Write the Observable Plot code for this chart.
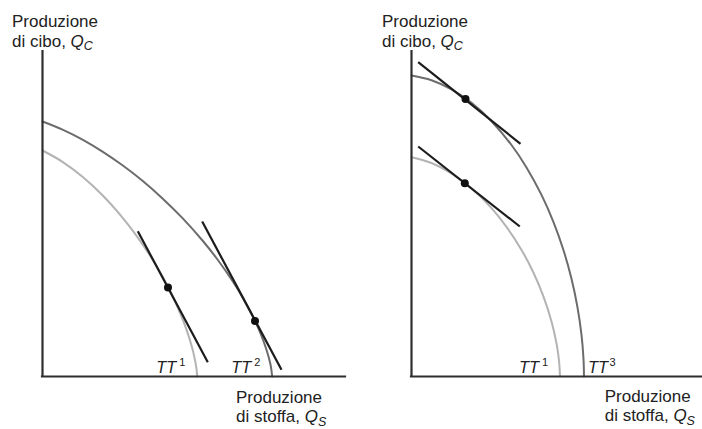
<!DOCTYPE html>
<html>
<head>
<meta charset="utf-8">
<script src="https://cdn.jsdelivr.net/npm/d3@7"></script>
<script src="https://cdn.jsdelivr.net/npm/@observablehq/plot@0.6"></script>
<style>
  html, body { margin: 0; padding: 0; background: #fff; }
  #wrap { display: flex; width: 702px; height: 429px; overflow: hidden; }
  #wrap svg { display: block; }
</style>
</head>
<body>
<div id="wrap"></div>
<script>
// ---- Data (production of cloth Q_S, production of food Q_C; arbitrary units) ----
// Left panel: frontiers TT1 and TT2
const tt1Left = [[0,226],[20,214.7],[40,199.7],[60,181.2],[80,158.9],[95,139.4],[110,117],[120,99.9],[130,80.5],[138,62.5],[144,46.8],[149,30.9],[152,18.9],[154,7.7],[154.7,0]];
const tt2Left = [[0,255],[20,246.9],[40,236.9],[60,224.9],[80,211.2],[100,195.7],[120,178.1],[140,158.4],[160,136],[175,117],[190,95.5],[200,79.3],[210,60.7],[218,43.2],[224,26.8],[228,12],[229.7,0]];
const tangentsLeft = [[[95.3,145.3],[165.3,14.3]], [[159.7,155],[239,6.7]]];
const pointsLeft = [[125.5,89],[212.5,55.5]];

// Right panel: frontiers TT1 and TT3
const tt1Right = [[0,219.3],[20,213.5],[40,203.1],[60,188.2],[80,168.4],[95,149.6],[110,126.6],[122,103.8],[132,79.9],[140,55],[145,33.1],[147.5,16],[148.5,0]];
const tt3Right = [[0,301],[20,296.3],[40,287.2],[60,273.6],[80,255.3],[100,231.5],[115,209.1],[130,181.6],[142,154.4],[152,126.3],[160,97.7],[166,69.2],[170,41.6],[172,17.5],[172.5,0]];
const tangentsRight = [[[6.7,314.3],[109,232.7]], [[6.7,230],[108.3,150]]];
const pointsRight = [[54,277.5],[53.3,193.3]];

// Curve labels
const labelsLeft = [{name: "TT", sup: "1", curve: tt1Left, side: "left"}, {name: "TT", sup: "2", curve: tt2Left, side: "left"}];
const labelsRight = [{name: "TT", sup: "1", curve: tt1Right, side: "left"}, {name: "TT", sup: "3", curve: tt3Right, side: "right"}];

// Axis titles
const yTitle = ["Produzione", "di cibo, ", "Q", "C"];
const xTitle = ["Produzione", "di stoffa, ", "Q", "S"];

// ---- Drawing ----
const FONT = "'Liberation Sans', Arial, Helvetica, sans-serif";
const DARK = "#6c6c6c", LIGHT = "#b3b3b3", INK = "#1c1c1c", AXIS = "#2e2e2e";

function labelMarks(labels) {
  const marks = [];
  for (const l of labels) {
    const left = l.side === "left";
    const xi = l.curve[l.curve.length - 1][0];
    marks.push(Plot.text([l], {
      x: () => xi, y: () => 0, text: d => d.name,
      textAnchor: left ? "end" : "start", lineAnchor: "bottom",
      dx: left ? -21 : 4, dy: -3.5,
      fontStyle: "italic", fontSize: 16.4, fill: "#222"
    }));
    marks.push(Plot.text([l], {
      x: () => xi, y: () => 0, text: d => d.sup,
      textAnchor: "start", lineAnchor: "bottom",
      dx: left ? -18 : 25.5, dy: -10.5,
      fontSize: 11, fill: "#222"
    }));
  }
  return marks;
}

function panel(o) {
  const svg = Plot.plot({
    width: o.width, height: 429,
    marginLeft: o.marginLeft, marginRight: o.marginRight, marginTop: 50, marginBottom: 53,
    x: {domain: [0, o.xMax], axis: null},
    y: {domain: [0, 326], axis: null},
    style: {fontFamily: FONT, background: "#fff", overflow: "visible"},
    marks: [
      Plot.line(o.light, {x: d => d[0], y: d => d[1], stroke: LIGHT, strokeWidth: 2, curve: "catmull-rom"}),
      Plot.line(o.dark, {x: d => d[0], y: d => d[1], stroke: DARK, strokeWidth: 2, curve: "catmull-rom"}),
      Plot.link(o.tangents, {x1: d => d[0][0], y1: d => d[0][1], x2: d => d[1][0], y2: d => d[1][1], stroke: INK, strokeWidth: 2.2}),
      Plot.dot(o.points, {x: d => d[0], y: d => d[1], r: 4, fill: "#111", stroke: "none"}),
      Plot.ruleX([0], {stroke: AXIS, strokeWidth: 2.2}),
      Plot.ruleY([0], {stroke: AXIS, strokeWidth: 2.2, strokeLinecap: "square"}),
      ...labelMarks(o.labels)
    ]
  });
  const s = d3.select(svg);
  const title = (t, x, y1, y2, subShift) => {
    s.append("text").attr("x", x).attr("y", y1).attr("text-anchor", "start")
      .attr("font-family", FONT).attr("font-size", 17).attr("fill", "#222").text(t[0]);
    const l2 = s.append("text").attr("x", x).attr("y", y2).attr("text-anchor", "start")
      .attr("font-family", FONT).attr("font-size", 17).attr("fill", "#222");
    l2.append("tspan").text(t[1]);
    l2.append("tspan").attr("font-style", "italic").text(t[2]);
    l2.append("tspan").attr("font-style", "italic").attr("font-size", 12.5).attr("dy", subShift).text(t[3]);
  };
  title(yTitle, o.yTitleX, 26.5, 46.5, 3.5);
  title(xTitle, o.xTitleX, o.xTitleY1, o.xTitleY2, 4);
  return svg;
}

const wrap = document.getElementById("wrap");
wrap.append(panel({
  width: 350, marginLeft: 42, marginRight: 5, xMax: 303,
  light: tt1Left, dark: tt2Left, tangents: tangentsLeft, points: pointsLeft, labels: labelsLeft,
  yTitleX: 12, xTitleX: 236, xTitleY1: 403, xTitleY2: 422
}));
wrap.append(panel({
  width: 352, marginLeft: 61, marginRight: 0, xMax: 291,
  light: tt1Right, dark: tt3Right, tangents: tangentsRight, points: pointsRight, labels: labelsRight,
  yTitleX: 32, xTitleX: 254.7, xTitleY1: 401.5, xTitleY2: 420.5
}));
</script>
</body>
</html>
